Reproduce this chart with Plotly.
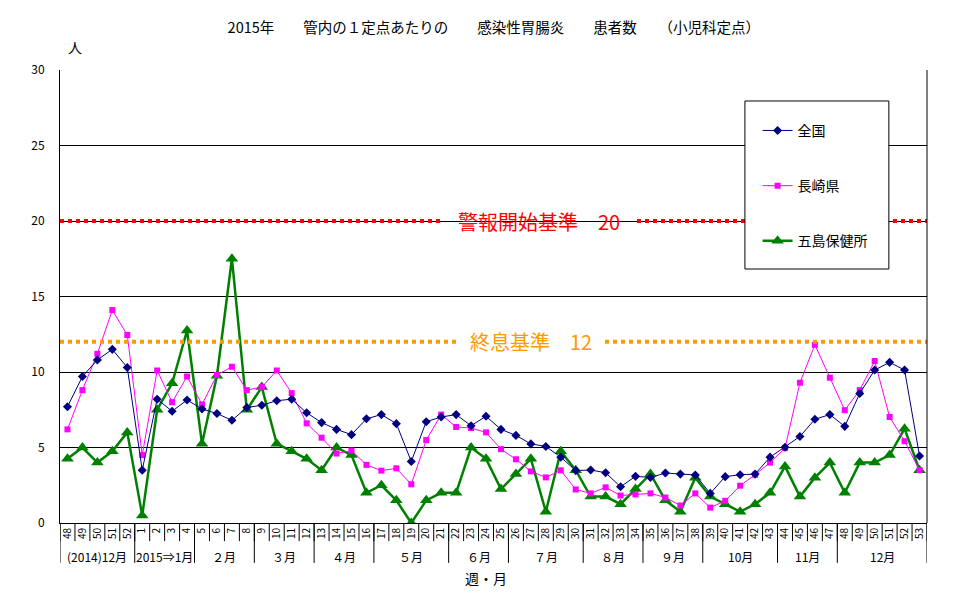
import plotly.graph_objects as go

# ---- data ----
weeks = ["48", "49", "50", "51", "52"] + [str(w) for w in range(1, 54)]
month_labels = ["(2014)12月", "2015⇒1月", "２月", "３月", "４月", "５月", "６月",
                "７月", "８月", "９月", "10月", "11月", "12月"]
month_week_counts = [5, 4, 4, 4, 4, 5, 4, 5, 4, 4, 5, 4, 6]

zenkoku = [7.7, 9.7, 10.8, 11.5, 10.3, 3.5, 8.2, 7.4, 8.15, 7.55, 7.25, 6.8, 7.65, 7.8, 8.1,
           8.2, 7.3, 6.65, 6.2, 5.85, 6.9, 7.18, 6.58, 4.07, 6.71, 7.02, 7.18, 6.44, 7.07,
           6.2, 5.8, 5.24, 5.07, 4.36, 3.47, 3.51, 3.33, 2.4, 3.09, 3.02, 3.31, 3.24, 3.18,
           1.96, 3.07, 3.2, 3.24, 4.36, 5.02, 5.73, 6.87, 7.18, 6.4, 8.58, 10.13, 10.64,
           10.13, 4.44]
nagasaki = [6.2, 8.8, 11.2, 14.1, 12.45, 4.5, 10.1, 8.0, 9.7, 7.85, 9.8, 10.35, 8.8, 9.0,
            10.1, 8.6, 6.6, 5.65, 4.6, 4.8, 3.85, 3.47, 3.62, 2.56, 5.49, 7.18, 6.36, 6.29,
            6.0, 4.89, 4.22, 3.42, 3.02, 3.49, 2.22, 1.96, 2.36, 1.82, 1.89, 1.96, 1.69,
            1.16, 1.96, 1.02, 1.47, 2.47, 3.2, 4.0, 4.96, 9.29, 11.8, 9.62, 7.47, 8.8,
            10.73, 7.02, 5.42, 3.5]
goto = [4.25, 5.0, 4.0, 4.75, 6.0, 0.5, 7.5, 9.25, 12.75, 5.25, 9.75, 17.5, 7.5, 9.0, 5.25,
        4.75, 4.25, 3.5, 5.0, 4.5, 2.0, 2.5, 1.5, 0.0, 1.5, 2.0, 2.0, 5.0, 4.25, 2.25, 3.25,
        4.25, 0.75, 4.75, 3.5, 1.75, 1.75, 1.25, 2.25, 3.25, 1.5, 0.75, 3.0, 1.75, 1.25,
        0.75, 1.25, 2.0, 3.75, 1.75, 3.0, 4.0, 2.0, 4.0, 4.0, 4.5, 6.25, 3.5]

alarm_level = 20
end_level = 12
alarm_text = "警報開始基準　20"
end_text = "終息基準　12"

FONT = "Noto Sans CJK JP"
x = list(range(len(weeks)))

fig = go.Figure()
fig.add_trace(go.Scatter(x=x, y=goto, name="五島保健所", mode="lines+markers",
                         line=dict(color="#008000", width=2.5),
                         marker=dict(symbol="triangle-up", size=11, color="#008000"),
                         legendgroup="c", legendrank=3))
fig.add_trace(go.Scatter(x=x, y=nagasaki, name="長崎県", mode="lines+markers",
                         line=dict(color="#FF00FF", width=1),
                         marker=dict(symbol="square", size=6, color="#FF00FF"),
                         legendgroup="b", legendrank=2))
fig.add_trace(go.Scatter(x=x, y=zenkoku, name="全国", mode="lines+markers",
                         line=dict(color="#000080", width=1),
                         marker=dict(symbol="diamond", size=7, color="#000080"),
                         legendgroup="a", legendrank=1))

shapes = []
# threshold lines with gaps for their labels
for lvl, col, gap in [(alarm_level, "#FF0000", (0.4406, 0.6655)),
                      (end_level, "#FF9900", (0.4579, 0.6286))]:
    for a, b in [(0, gap[0]), (gap[1], 1)]:
        shapes.append(dict(type="line", xref="paper", yref="y", x0=a, x1=b, y0=lvl, y1=lvl,
                           line=dict(color=col, width=4, dash="4px,4px"), layer="above"))

# week separators
n = len(weeks)
for i in range(n + 1):
    shapes.append(dict(type="line", xref="x", yref="paper", x0=i - 0.5, x1=i - 0.5,
                       y0=0, y1=-0.04, line=dict(color="black", width=1)))
# month separators
pos = -0.5
month_centers = []
bounds = [pos]
for c in month_week_counts:
    month_centers.append(pos + c / 2)
    pos += c
    bounds.append(pos)
for b in bounds:
    shapes.append(dict(type="line", xref="x", yref="paper", x0=b, x1=b,
                       y0=0, y1=-0.088, line=dict(color="black", width=1)))
# right border
shapes.append(dict(type="line", xref="paper", yref="paper", x0=1, x1=1, y0=0, y1=1,
                   line=dict(color="black", width=1)))
# legend box
shapes.append(dict(type="rect", xref="paper", yref="paper", x0=0.790, x1=0.956,
                   y0=0.5607, y1=0.9316, fillcolor="white",
                   line=dict(color="black", width=1), layer="above"))

annotations = [
    dict(text=alarm_text, xref="paper", yref="y", x=0.5530, y=alarm_level, showarrow=False,
         xanchor="center", yanchor="middle",
         font=dict(family=FONT, size=20, color="#FF0000")),
    dict(text=end_text, xref="paper", yref="y", x=0.5432, y=end_level, showarrow=False,
         xanchor="center", yanchor="middle",
         font=dict(family=FONT, size=20, color="#FF9900")),
    dict(text="人", xref="paper", yref="paper", x=0.0173, y=1.050, showarrow=False,
         xanchor="center", yanchor="middle",
         font=dict(family=FONT, size=14, color="black")),
    dict(text="週・月", xref="paper", yref="paper", x=0.4915, y=-0.121, showarrow=False,
         xanchor="center", yanchor="middle",
         font=dict(family=FONT, size=14, color="black")),
]
for lab, cx in zip(month_labels, month_centers):
    annotations.append(dict(text=lab, xref="x", yref="paper", x=cx, y=-0.075,
                            xanchor="center", yanchor="middle",
                            showarrow=False, font=dict(family=FONT, size=12, color="black")))

# the page body adds an 8px margin, so the figure is made 8px smaller and
# its left/top margins 8px narrower to land the plot area where the reference has it
fig.update_layout(
    width=962, height=596,
    margin=dict(l=52, r=43, t=62, b=81),
    paper_bgcolor="white", plot_bgcolor="white",
    title=dict(text="2015年　　管内の１定点あたりの　　感染性胃腸炎　　患者数　　（小児科定点）",
               x=0.505, xanchor="center", y=0.966, yanchor="middle",
               font=dict(family=FONT, size=14.5, color="black")),
    font=dict(family=FONT, color="black"),
    xaxis=dict(range=[-0.5, n - 0.5], tickvals=x, ticktext=weeks, tickangle=-90,
               tickfont=dict(size=10, family=FONT), ticks="", showgrid=False,
               showline=True, linecolor="black", linewidth=1, zeroline=False,
               fixedrange=True),
    yaxis=dict(range=[0, 30], dtick=5, showgrid=True, gridcolor="black", gridwidth=1,
               showline=True, linecolor="black", linewidth=1, zeroline=False,
               tickfont=dict(size=12, family=FONT), ticks="", ticklabelstandoff=12),
    shapes=shapes,
    annotations=annotations,
    showlegend=True,
    legend=dict(x=0.8046, y=0.901, xanchor="left", yanchor="top", bgcolor="rgba(0,0,0,0)",
                borderwidth=0, tracegroupgap=34, font=dict(family=FONT, size=14),
                itemwidth=30),
)

fig.write_html("out.html")
